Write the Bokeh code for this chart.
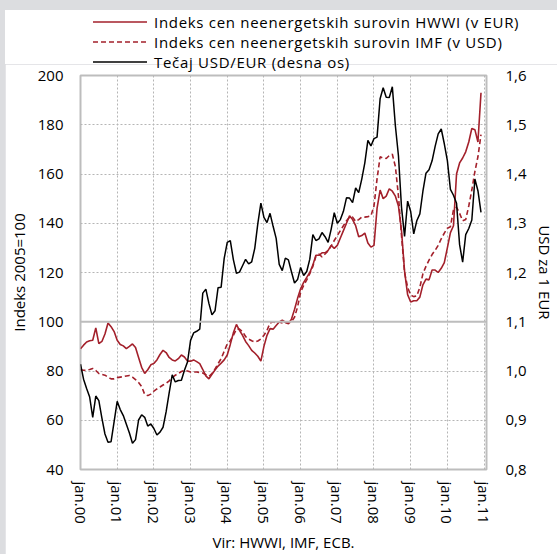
from bokeh.plotting import figure
from bokeh.layouts import column
from bokeh.models import (Range1d, LinearAxis, FixedTicker, CustomJSTickFormatter,
                          Span, Div, ColumnDataSource)
from bokeh.embed import file_html
from bokeh.resources import INLINE

# ---- data (monthly, Jan 2000 - Dec 2010) ----
hwwi_eur = [
    89, 90.5, 91.8, 92.3, 92.5, 97.5, 91.1, 92, 95, 99.5, 98, 96,
    92.5, 90.8, 90.2, 89.1, 90, 91, 89.5, 85.5, 81.5, 79, 80.5, 82.5,
    83.1, 84.5, 86.7, 88.4, 87.5, 85.5, 84.5, 84.1, 85, 86.5, 85.7, 84,
    84, 84.5, 83.8, 83, 80.6, 78, 76.8, 78.7, 80.4, 82, 83.2, 84.5,
    86.5, 90.8, 95.5, 98.9, 96.5, 94.5, 92, 90.3, 88.4, 87.3, 86, 84,
    90, 94.5, 97.2, 97, 98.5, 99.9, 100.6, 99.8, 99.2, 101, 105, 109.5,
    113.4, 116, 118, 120, 123, 127, 127, 128, 128, 129, 131, 129.8,
    131, 134, 137, 140, 143, 141.5, 139, 134.5, 135, 136, 132, 130.3,
    131, 146, 153.5, 150, 151, 154, 153, 151, 147, 137, 120.5, 111,
    108, 108.5, 108.5, 110, 115, 117.3, 117, 121, 121, 120, 121.7, 124,
    130, 136.2, 139, 160, 164.5, 166.5, 169, 173, 178.5, 178, 173, 193,
]
imf_usd = [
    80.5, 80.3, 80.3, 80.6, 81, 80.2, 79, 78.6, 78.3, 77.5, 76.8, 76.8,
    77.3, 77.5, 77.7, 78, 78.2, 77.5, 76.5, 75.3, 73.7, 70.5, 70, 70.6,
    71.8, 72.7, 73.5, 74.3, 75, 76, 77.2, 78.3, 79, 79.8, 80.3, 80,
    79.6, 79.6, 79.6, 79.4, 79.2, 78.5, 77.8, 79, 80.8, 83, 85, 88,
    91, 92.3, 94.5, 97, 97, 96, 94, 93, 92.3, 91.8, 92.2, 93,
    94.5, 96.5, 99.5, 100, 99.5, 99.9, 99.5, 99.6, 99.5, 100, 101.8, 106,
    112, 114.8, 117, 119.5, 122.5, 126.6, 127.5, 126.3, 127.5, 128.8, 130.8, 133,
    135, 137, 139, 141, 142.5, 142.5, 140.7, 141.5, 142.5, 142.5, 142.7, 143,
    147, 158, 167, 166.5, 166.3, 167.5, 168, 163, 151, 135, 120, 114,
    110.8, 110.2, 110.5, 114, 119.5, 122.5, 125, 127.3, 129, 131, 133.7, 136,
    138, 138.6, 145.5, 146.5, 144, 141, 141.5, 147, 153.5, 161, 167, 176,
]
usd_per_eur = [
    1.0137, 0.9834, 0.9643, 0.9470, 0.9060, 0.9492, 0.9397, 0.9041, 0.8721, 0.8552, 0.8564, 0.8973,
    0.9383, 0.9217, 0.9095, 0.8920, 0.8742, 0.8532, 0.8607, 0.9005, 0.9111, 0.9059, 0.8883, 0.8924,
    0.8833, 0.8700, 0.8758, 0.8858, 0.9170, 0.9554, 0.9922, 0.9778, 0.9808, 0.9811, 1.0014, 1.0183,
    1.0622, 1.0773, 1.0807, 1.0848, 1.1582, 1.1663, 1.1372, 1.1139, 1.1222, 1.1692, 1.1702, 1.2286,
    1.2613, 1.2646, 1.2262, 1.1985, 1.2007, 1.2138, 1.2266, 1.2176, 1.2218, 1.2490, 1.2991, 1.3408,
    1.3119, 1.3014, 1.3201, 1.2938, 1.2694, 1.2165, 1.2037, 1.2292, 1.2256, 1.2015, 1.1786, 1.1856,
    1.2103, 1.1938, 1.2020, 1.2271, 1.2770, 1.2650, 1.2684, 1.2811, 1.2727, 1.2611, 1.2881, 1.3213,
    1.2999, 1.3074, 1.3242, 1.3516, 1.3511, 1.3419, 1.3716, 1.3622, 1.3896, 1.4227, 1.4684, 1.4570,
    1.4718, 1.4748, 1.5527, 1.5750, 1.5557, 1.5553, 1.5770, 1.4975, 1.4370, 1.3322, 1.2732, 1.3449,
    1.3239, 1.2785, 1.3050, 1.3190, 1.3650, 1.4016, 1.4088, 1.4268, 1.4562, 1.4816, 1.4914, 1.4614,
    1.4272, 1.3686, 1.3569, 1.3406, 1.2565, 1.2209, 1.2770, 1.2894, 1.3067, 1.3898, 1.3661, 1.3220,
]
x_tick_labels = ["jan.00", "jan.01", "jan.02", "jan.03", "jan.04", "jan.05",
                 "jan.06", "jan.07", "jan.08", "jan.09", "jan.10", "jan.11"]
left_ticks = [40, 60, 80, 100, 120, 140, 160, 180, 200]
right_ticks = [0.8, 0.9, 1.0, 1.1, 1.2, 1.3, 1.4, 1.5, 1.6]
legend_labels = ["Indeks cen neenergetskih surovin HWWI (v EUR)",
                 "Indeks cen neenergetskih surovin IMF (v USD)",
                 "Tečaj USD/EUR (desna os)"]
source_text = "Vir: HWWI, IMF, ECB."

months = list(range(len(hwwi_eur)))
src = ColumnDataSource(dict(m=months, hwwi=hwwi_eur, imf=imf_usd, fx=usd_per_eur))

FONT = "Open Sans"
RED = "#a3202b"
GRID = "#b5b5b5"
FS = "15px"
W = 552
LEG_H = 54

series_styles = [(RED, 1.6, None), (RED, 1.6, "5 3"), ("black", 1.5, None)]

# ---------------- main chart ----------------
p = figure(width=W, height=544 - LEG_H, output_backend="svg", toolbar_location=None,
           x_range=Range1d(0, 132.8), y_range=Range1d(40, 200),
           min_border_left=74, min_border_right=64, min_border_top=11, min_border_bottom=85,
           background_fill_color="white", border_fill_color="white")
p.extra_y_ranges = {"fx": Range1d(0.8, 1.6)}
p.outline_line_color = "#bdbdbd"
p.outline_line_width = 2

x_ticks = [12 * i for i in range(len(x_tick_labels))]
p.xaxis.ticker = FixedTicker(ticks=x_ticks)
p.xaxis.major_label_overrides = {t: lab for t, lab in zip(x_ticks, x_tick_labels)}
p.xaxis.major_label_orientation = "vertical"
p.yaxis.ticker = FixedTicker(ticks=left_ticks)

right = LinearAxis(y_range_name="fx", ticker=FixedTicker(ticks=right_ticks),
                   formatter=CustomJSTickFormatter(code="return tick.toFixed(1).replace('.', ',');"))
p.add_layout(right, "right")

for ax in [p.xaxis[0], p.yaxis[0], right]:
    ax.axis_line_color = None
    ax.major_tick_line_color = None
    ax.minor_tick_line_color = None
    ax.major_tick_out = 0
    ax.major_tick_in = 0
    ax.minor_tick_out = 0
    ax.major_label_text_font = FONT
    ax.major_label_text_font_size = FS
    ax.major_label_text_color = "black"
    ax.axis_label_text_font = FONT
    ax.axis_label_text_font_size = FS
    ax.axis_label_text_font_style = "normal"
    ax.axis_label_text_color = "black"

p.xaxis.major_label_standoff = 12
p.xaxis.axis_label = source_text
p.xaxis.axis_label_standoff = 5

p.yaxis.major_label_standoff = 17
p.yaxis.axis_label = "Indeks 2005=100"
p.yaxis.axis_label_standoff = 6

right.major_label_standoff = 19
right.axis_label = "USD za 1 EUR"
right.axis_label_standoff = 5

p.xgrid.ticker = FixedTicker(ticks=x_ticks)
p.ygrid.ticker = FixedTicker(ticks=left_ticks)
for g in (p.xgrid, p.ygrid):
    g.grid_line_color = GRID
    g.grid_line_dash = "2 2"
    g.grid_line_width = 1

p.add_layout(Span(location=100, dimension="width", line_color="#bdbdbd", line_width=2))

for col, (c, lw, dash), rng in zip(["hwwi", "imf", "fx"], series_styles, ["default", "default", "fx"]):
    kw = dict(line_color=c, line_width=lw)
    if dash:
        kw["line_dash"] = dash
    if rng != "default":
        kw["y_range_name"] = rng
    p.line("m", col, source=src, **kw)

# ---------------- legend strip above the chart (last row may overlap the chart's white top margin) ----
rows_html = []
for i, (lab, (c, lw, dash)) in enumerate(zip(legend_labels, series_styles)):
    top = 2 + 20 * i
    dash_attr = f' stroke-dasharray="{dash}"' if dash else ""
    rows_html.append(
        f'<svg style="position:absolute;left:88px;top:{top}px" width="54" height="20">'
        f'<line x1="0" y1="10" x2="54" y2="10" stroke="{c}" stroke-width="{lw}"{dash_attr}/></svg>'
        f'<span style="position:absolute;left:149px;top:{top}px;height:20px;line-height:20px;'
        f'white-space:nowrap">{lab}</span>'
    )
legend_div = Div(
    text=(f'<div style="position:relative;width:{W}px;height:{LEG_H}px;overflow:visible;'
          f'font-family:\'{FONT}\';font-size:{FS};letter-spacing:0.7px;color:black">'
          + "".join(rows_html) + "</div>"),
    width=W, height=LEG_H, margin=(0, 0, 0, 0),
    styles={"background-color": "white", "overflow": "visible",
            "position": "relative", "z-index": "10"})
p.margin = (0, 0, 0, 0)

layout = column(legend_div, p, spacing=0)

html = file_html(layout, INLINE)
html = html.replace("</head>",
                    "<style>html, body {background:#dcdde0 !important;} "
                    "body {padding:10px 0 0 5px !important; box-sizing:border-box;}</style></head>", 1)
open("out.html", "w").write(html)
